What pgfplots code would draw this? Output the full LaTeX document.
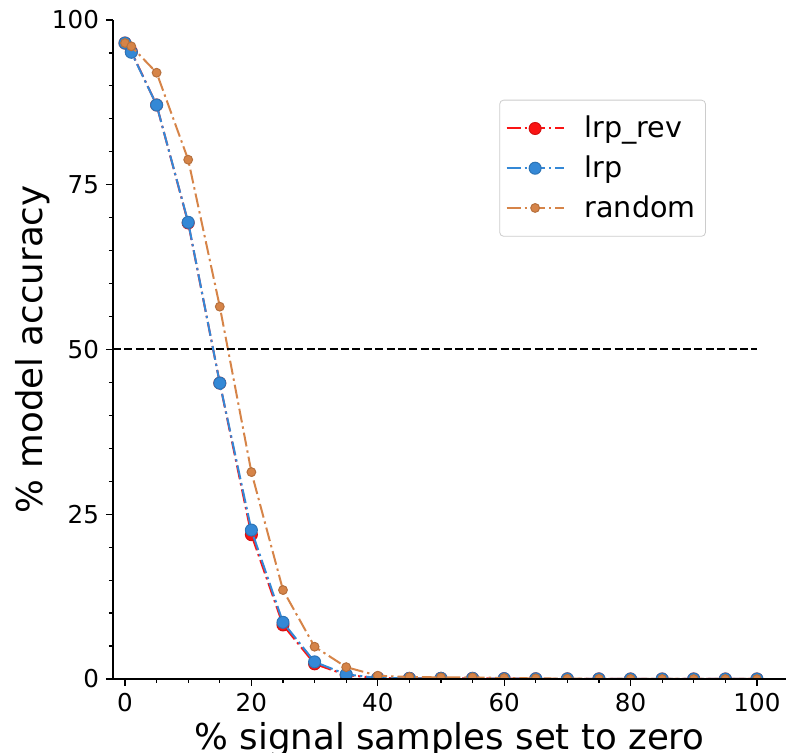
\documentclass[border=0pt]{standalone}
\usepackage{pgfplots}
\pgfplotsset{compat=1.18}
\usepackage{fontspec}
\setmainfont{DejaVu Sans}
\definecolor{cred}{RGB}{250,20,20}
\definecolor{cblue}{RGB}{52,136,214}
\definecolor{corange}{RGB}{214,132,72}
\pgfplotstableread{
x y
0 96.5
1 95.2
5 87.1
10 69.2
15 44.9
20 21.9
25 8.2
30 2.3
35 0.6
40 0.15
45 0.1
50 0.1
55 0.1
60 0.05
65 0.03
70 0.02
75 0.01
80 0
85 0
90 0
95 0
100 0
}\lrprev
\pgfplotstableread{
x y
0 96.5
1 95.1
5 87.1
10 69.3
15 44.9
20 22.6
25 8.6
30 2.6
35 0.7
40 0.15
45 0.1
50 0.1
55 0.1
60 0.05
65 0.03
70 0.02
75 0.01
80 0
85 0
90 0
95 0
100 0
}\lrp
\pgfplotstableread{
x y
0 96.5
1 96.0
5 92.0
10 78.8
15 56.5
20 31.4
25 13.5
30 4.9
35 1.8
40 0.5
45 0.3
50 0.25
55 0.25
60 0.15
65 0.1
70 0.05
75 0.03
80 0.02
85 0.01
90 0
95 0
100 0
}\rnd
\begin{document}
\begin{tikzpicture}
\begin{scope}
\clip (0,0) rectangle (393pt,376.5pt);
\begin{axis}[
  at={(56.5pt,37pt)}, anchor=south west,
  scale only axis, width=336.5pt, height=329.5pt,
  xmin=-1.9, xmax=104.6, ymin=0, ymax=100,
  axis x line*=bottom, axis y line*=left,
  axis line style={-, line width=0.8pt},
  xtick={0,20,40,60,80,100}, minor x tick num=3,
  ytick={0,25,50,75,100}, minor y tick num=4,
  tick align=outside,
  major tick length=3.5pt, minor tick length=2pt,
  every tick/.style={black, line width=0.6pt},
  /pgf/number format/assume math mode=true,
  tick label style={font=\fontsize{12.3}{14}\selectfont},
  xlabel={\% signal samples set to zero},
  ylabel={\% model accuracy},
  label style={font=\fontsize{17.8}{20}\selectfont},
  xlabel style={at={(axis description cs:0.5,-0.1077)}, anchor=base},
  ylabel style={at={(axis description cs:-0.119,0.5)}, anchor=center},
  clip marker paths=true,
  axis on top,
  legend style={at={(0.881,0.879)}, anchor=north east,
    font=\fontsize{14.3}{17}\selectfont,
    draw=black!20, rounded corners=2pt, fill=white,
    inner xsep=3pt, inner ysep=6pt, row sep=3.5pt,
    /tikz/every odd column/.append style={column sep=8pt}},
  legend cell align=left,
  legend image code/.code={\draw[mark repeat=2,mark phase=2] plot coordinates {(0cm,0cm)(0.5cm,0cm)(1cm,0cm)};},
]
\addplot[cred, line width=1pt, dash pattern=on 7pt off 2pt on 1.2pt off 2pt,
  mark=*, mark size=3pt, mark options={solid, fill=cred, draw=cred!85!black, line width=0.5pt}]
  table {\lrprev};
\addlegendentry{lrp\_rev}
\addplot[cblue, line width=1pt, dash pattern=on 7pt off 2pt on 1.2pt off 2pt,
  mark=*, mark size=3pt, mark options={solid, fill=cblue, draw=cblue!85!black, line width=0.5pt}]
  table {\lrp};
\addlegendentry{lrp}
\addplot[corange, line width=1pt, dash pattern=on 7pt off 2pt on 1.2pt off 2pt,
  mark=*, mark size=2.2pt, mark options={solid, fill=corange, draw=corange!85!black, line width=0.5pt}]
  table {\rnd};
\addlegendentry{random}
\addplot[black, line width=1pt, dash pattern=on 4pt off 1.7pt, forget plot]
  coordinates {(-1.9,50) (100,50)};
\end{axis}
\end{scope}
\pgfresetboundingbox
\useasboundingbox (0,0) rectangle (393pt,376.5pt);
\end{tikzpicture}
\end{document}
